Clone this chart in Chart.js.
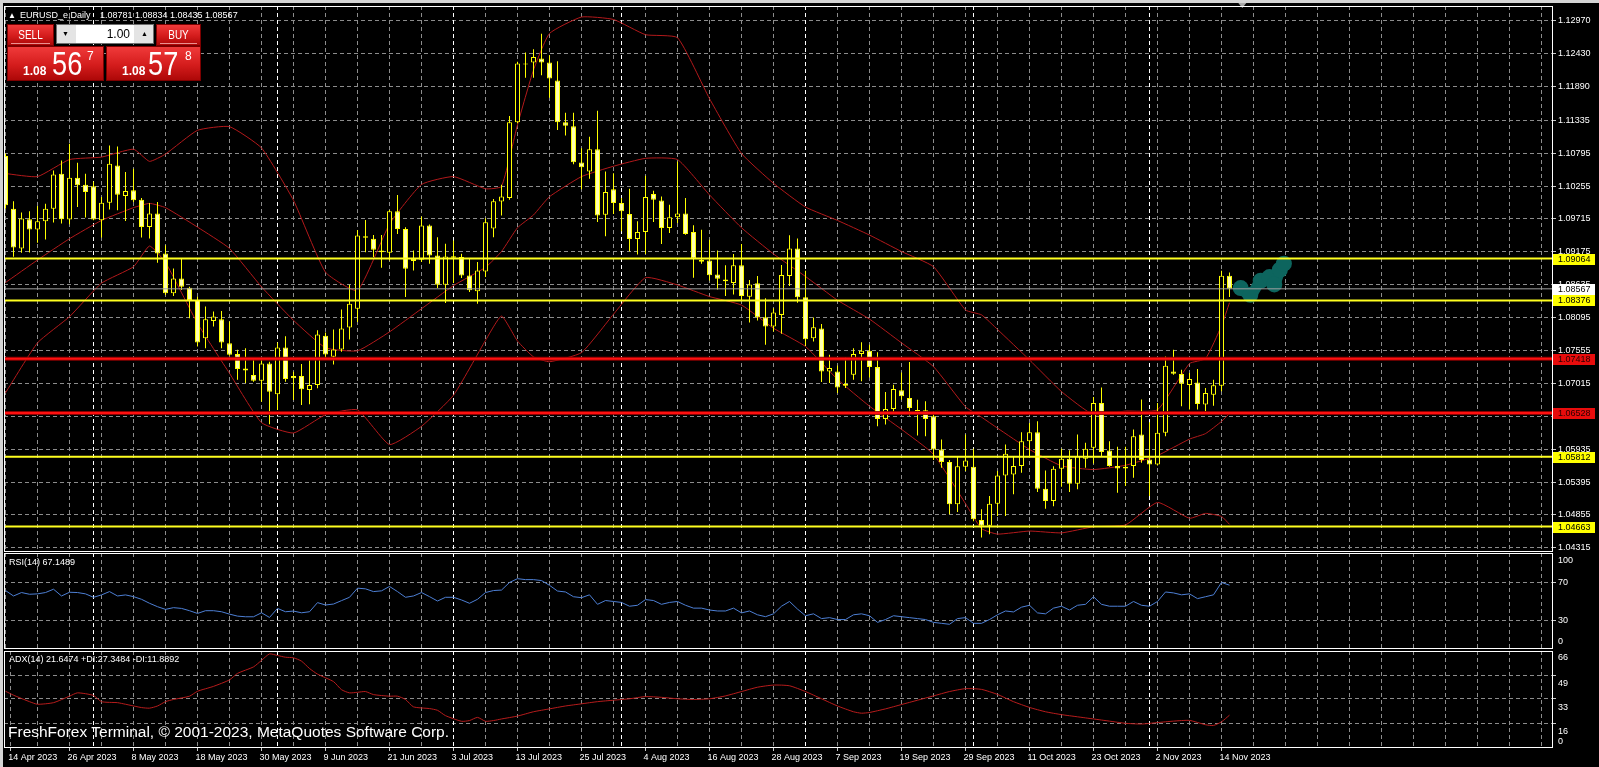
<!DOCTYPE html>
<html>
<head>
<meta charset="utf-8">
<title>EURUSD_e Daily</title>
<script src="https://cdn.jsdelivr.net/npm/chart.js@4.4.1/dist/chart.umd.min.js"></script>
<style>
  html, body { margin:0; padding:0; background:#000; }
  body { width:1599px; height:767px; position:relative; overflow:hidden; font-family:"Liberation Sans", Arial, sans-serif; }
  canvas { position:absolute; left:0; display:block; }
  .txt { position:absolute; color:#fff; font-size:9px; line-height:9px; white-space:nowrap; z-index:5; }
  .strip { position:absolute; background:#d4d4d4; z-index:6; }
  .rb { position:absolute; box-sizing:border-box; border:1px solid #7d0000; background:linear-gradient(to bottom,#f03a3a 0%,#d41c1c 55%,#ad0808 100%); z-index:5; }
  .w { position:absolute; color:#fff; white-space:nowrap; z-index:7; line-height:1; }
</style>
</head>
<body>
<canvas id="cMain" width="1599" height="552" style="top:0;width:1599px;height:552px"></canvas>
<canvas id="cRsi" width="1599" height="97" style="top:552px;width:1599px;height:97px"></canvas>
<canvas id="cAdx" width="1599" height="118" style="top:649px;width:1599px;height:118px"></canvas>

<div class="strip" style="left:0;top:0;width:1599px;height:3px"></div>
<div class="strip" style="left:0;top:0;width:3px;height:767px"></div>

<div class="txt" style="left:8px;top:11px;font-size:8px">▲</div>
<div class="txt" style="left:20px;top:10.6px">EURUSD_e,Daily</div>
<div class="txt" style="left:100px;top:10.6px">1.08781 1.08834 1.08435 1.08567</div>

<!-- one-click trading panel -->
<div class="rb" style="left:7px;top:24px;width:47px;height:22px"></div>
<div class="w" style="left:7px;top:29px;width:47px;text-align:center;font-size:12px;transform:scaleX(.83)">SELL</div>
<div style="position:absolute;left:11px;top:43px;width:39px;height:1px;background:rgba(255,190,190,.75);z-index:7"></div>
<div style="position:absolute;left:56px;top:24px;width:98px;height:20px;box-sizing:border-box;border:1px solid #6e6e6e;background:#e4e4e4;z-index:5"></div>
<div style="position:absolute;left:76px;top:25px;width:58px;height:18px;background:#fff;z-index:6"></div>
<div class="w" style="left:76px;top:27.5px;width:54px;text-align:right;color:#000;font-size:12px">1.00</div>
<div class="w" style="left:62px;top:30px;color:#000;font-size:7px">▼</div>
<div class="w" style="left:141px;top:30px;color:#000;font-size:7px">▲</div>
<div class="rb" style="left:156px;top:24px;width:45px;height:22px"></div>
<div class="w" style="left:156px;top:29px;width:45px;text-align:center;font-size:12px;transform:scaleX(.83)">BUY</div>
<div style="position:absolute;left:160px;top:43px;width:37px;height:1px;background:rgba(255,190,190,.75);z-index:7"></div>
<div class="rb" style="left:7px;top:46px;width:97px;height:35px"></div>
<div class="rb" style="left:106px;top:46px;width:95px;height:35px"></div>
<div class="w" style="left:23px;top:65px;font-size:12px;font-weight:bold">1.08</div>
<div class="w" style="left:52px;top:46px;font-size:34px;transform:scaleX(.8);transform-origin:0 0">56</div>
<div class="w" style="left:87px;top:50px;font-size:12px">7</div>
<div class="w" style="left:122px;top:65px;font-size:12px;font-weight:bold">1.08</div>
<div class="w" style="left:148px;top:46px;font-size:34px;transform:scaleX(.8);transform-origin:0 0">57</div>
<div class="w" style="left:185px;top:50px;font-size:12px">8</div>

<div class="txt" style="left:9px;top:558.3px">RSI(14) 67.1489</div>
<div class="txt" style="left:9px;top:655px">ADX(14) 21.6474 +DI:27.3484 -DI:11.8892</div>
<div class="txt" style="left:8px;top:723.5px;font-size:15.5px;line-height:15.5px">FreshForex Terminal, © 2001-2023, MetaQuotes Software Corp.</div>

<script>
// ---------------- data ----------------
const xTickLabels = ['14 Apr 2023','26 Apr 2023','8 May 2023','18 May 2023','30 May 2023','9 Jun 2023',
  '21 Jun 2023','3 Jul 2023','13 Jul 2023','25 Jul 2023','4 Aug 2023','16 Aug 2023','28 Aug 2023',
  '7 Sep 2023','19 Sep 2023','29 Sep 2023','11 Oct 2023','23 Oct 2023','2 Nov 2023','14 Nov 2023'];

const opens = [1.10750,1.09884,1.09229,1.09709,1.09540,1.09677,1.09884,1.10457,1.09704,1.10391,
1.10277,1.10250,1.09693,1.09982,1.10593,1.10091,1.10184,1.10030,1.09584,1.09802,
1.09148,1.08493,1.08738,1.08585,1.08384,1.07757,1.08040,1.08068,1.07675,1.07495,
1.07261,1.07151,1.07058,1.07342,1.06835,1.07604,1.07135,1.07135,1.06906,1.06988,
1.07795,1.07451,1.07571,1.07931,1.08242,1.09431,1.09388,1.09197,1.09158,1.09840,
1.09551,1.09060,1.09044,1.09606,1.09115,1.08635,1.09077,1.09088,1.08788,1.08526,
1.08853,1.09557,1.10003,1.10057,1.11301,1.12250,1.12283,1.12348,1.12283,1.11988,
1.11301,1.11235,1.10641,1.10493,1.10859,1.09784,1.10204,1.09975,1.09795,1.09386,
1.09501,1.10123,1.10019,1.09566,1.09741,1.09806,1.09501,1.09010,1.09032,1.08802,
1.08721,1.08661,1.08955,1.08439,1.08657,1.08100,1.07948,1.08139,1.08777,1.09230,
1.08428,1.07757,1.07915,1.07211,1.07211,1.07004,1.07157,1.07495,1.07549,1.07282,
1.06431,1.06595,1.06900,1.06775,1.06578,1.06573,1.06475,1.05929,1.05722,1.05029,
1.05646,1.05646,1.04773,1.04675,1.05040,1.05504,1.05520,1.05657,1.06066,1.06213,
1.05286,1.05084,1.05613,1.05777,1.05368,1.05777,1.05957,1.06693,1.05913,1.05657,
1.05646,1.05657,1.06175,1.05766,1.05684,1.06202,1.07211,1.07168,1.06988,1.07031,
1.06666,1.06830,1.06977,1.08781];

const highs = [1.10790,1.10004,1.09819,1.09840,1.09928,1.09966,1.10511,1.10675,1.10948,1.10637,
1.10457,1.10331,1.10075,1.10920,1.10904,1.10484,1.10539,1.10059,1.09977,1.09993,
1.09284,1.08902,1.09066,1.08602,1.08438,1.08275,1.08193,1.08204,1.08030,1.07566,
1.07593,1.07424,1.07424,1.07369,1.07686,1.07789,1.07206,1.07331,1.07396,1.07888,
1.07849,1.07898,1.08226,1.08635,1.09535,1.09698,1.09453,1.09453,1.09862,1.10108,
1.09578,1.09197,1.09753,1.09622,1.09415,1.09306,1.09360,1.09142,1.09060,1.09006,
1.09726,1.10042,1.10275,1.11404,1.12294,1.12446,1.12501,1.12757,1.12403,1.12305,
1.11459,1.11459,1.10875,1.11066,1.11492,1.10493,1.10466,1.10057,1.10210,1.09675,
1.10423,1.10177,1.10084,1.09948,1.10657,1.10057,1.09610,1.09539,1.09375,1.09195,
1.08955,1.09141,1.09304,1.08711,1.08777,1.08411,1.08248,1.08957,1.09448,1.09393,
1.08864,1.08095,1.07991,1.07484,1.07309,1.07440,1.07593,1.07691,1.07648,1.07527,
1.06873,1.06993,1.07195,1.07364,1.06747,1.06720,1.06557,1.06093,1.05755,1.05804,
1.06175,1.05940,1.04947,1.05166,1.05575,1.06011,1.05820,1.06213,1.06366,1.06393,
1.05586,1.05656,1.05940,1.05918,1.06175,1.06038,1.06791,1.06949,1.06066,1.05973,
1.05973,1.06257,1.06748,1.06377,1.06693,1.07457,1.07566,1.07238,1.07184,1.07249,
1.06938,1.07075,1.08864,1.08834];

const lows = [1.09880,1.09093,1.09159,1.09164,1.09322,1.09377,1.09655,1.09639,1.09628,1.09911,
1.09737,1.09693,1.09409,1.09868,1.09857,1.09682,1.09993,1.09409,1.09393,1.08995,
1.08466,1.08449,1.08548,1.08084,1.07620,1.07593,1.07947,1.07593,1.07467,1.07075,
1.07020,1.07042,1.06715,1.06344,1.06578,1.07042,1.06742,1.06660,1.06671,1.06933,
1.07424,1.07326,1.07533,1.07735,1.08024,1.09169,1.09088,1.08913,1.09033,1.09469,
1.08433,1.08869,1.09006,1.08978,1.08580,1.08335,1.08662,1.08744,1.08515,1.08324,
1.08760,1.09415,1.09773,1.10030,1.11284,1.12032,1.12032,1.12075,1.11705,1.11175,
1.11083,1.10614,1.10204,1.10373,1.09664,1.09430,1.09795,1.09512,1.09184,1.09130,
1.09141,1.09664,1.09304,1.09484,1.09648,1.09457,1.08748,1.08977,1.08704,1.08557,
1.08448,1.08475,1.08366,1.08013,1.08046,1.07648,1.07866,1.07828,1.08613,1.08340,
1.07631,1.07702,1.07037,1.07020,1.06857,1.06938,1.07075,1.07048,1.07113,1.06311,
1.06338,1.06529,1.06747,1.06486,1.06158,1.06147,1.05755,1.05629,1.04866,1.04904,
1.05575,1.04750,1.04484,1.04538,1.04838,1.04838,1.05193,1.05547,1.05820,1.05231,
1.04958,1.04998,1.05318,1.05231,1.05275,1.05629,1.05700,1.05820,1.05646,1.05220,
1.05329,1.05466,1.05711,1.05166,1.05667,1.06147,1.07157,1.06638,1.06584,1.06584,
1.06557,1.06649,1.06884,1.08435];

const closes = [1.09938,1.09246,1.09720,1.09540,1.09677,1.09884,1.10446,1.09709,1.10391,1.10266,
1.10157,1.09704,1.09982,1.10620,1.10113,1.10173,1.10020,1.09584,1.09802,1.09148,
1.08493,1.08738,1.08602,1.08384,1.07686,1.08068,1.08111,1.07686,1.07484,1.07250,
1.07228,1.07058,1.07342,1.06878,1.07604,1.07086,1.07097,1.06917,1.06988,1.07817,
1.07489,1.07571,1.07915,1.08324,1.09442,1.09404,1.09208,1.09169,1.09840,1.09551,
1.08897,1.09022,1.09606,1.09115,1.08635,1.09098,1.09104,1.08788,1.08542,1.08869,
1.09660,1.10004,1.10084,1.11301,1.12266,1.12255,1.12375,1.12283,1.12021,1.11301,
1.11246,1.10646,1.10564,1.10859,1.09773,1.10155,1.09975,1.09839,1.09386,1.09501,
1.10073,1.10030,1.09566,1.09741,1.09806,1.09468,1.09064,1.09043,1.08792,1.08731,
1.08693,1.08955,1.08448,1.08640,1.08100,1.07948,1.08177,1.08793,1.09230,1.08428,
1.07740,1.07937,1.07211,1.07266,1.06949,1.06977,1.07495,1.07549,1.07282,1.06431,
1.06595,1.06922,1.06802,1.06611,1.06557,1.06431,1.05929,1.05722,1.05029,1.05656,
1.05749,1.04784,1.04675,1.05040,1.05504,1.05858,1.05657,1.06066,1.06213,1.05286,
1.05084,1.05613,1.05777,1.05368,1.05820,1.05940,1.06693,1.05886,1.05657,1.05618,
1.05618,1.06148,1.05755,1.05684,1.06202,1.07304,1.07173,1.07009,1.07086,1.06677,
1.06857,1.06982,1.08782,1.08567];

// Bollinger Bands (read at these bar indices)
const bbIdx = [0,4,8,12,16,18,20,24,28,32,36,40,44,48,52,56,60,62,64,66,68,72,76,80,84,88,92,96,100,104,
  108,112,116,120,122,124,128,132,136,140,144,148,150,152,153];
const bbUpper = [1.1046,1.1041,1.1069,1.1073,1.1086,1.1066,1.1078,1.1117,1.1123,1.1088,1.1002,1.0884,1.0854,1.0963,
  1.1028,1.1041,1.1021,1.1025,1.1126,1.1216,1.1276,1.1303,1.1299,1.1274,1.1269,1.1169,1.1079,1.1030,1.0991,1.0969,
  1.0945,1.0918,1.0893,1.0822,1.0814,1.0790,1.0740,1.0688,1.0650,1.0656,1.0658,1.0734,1.0742,1.0796,1.0834];
const bbMiddle = [1.0867,1.0904,1.0939,1.0969,1.0990,1.0997,1.0990,1.0958,1.0923,1.0860,1.0805,1.0760,1.0755,1.0786,
  1.0824,1.0862,1.0892,1.0918,1.0957,1.0978,1.1008,1.1041,1.1058,1.1071,1.1069,1.1011,1.0957,1.0914,1.0877,1.0838,
  1.0807,1.0768,1.0729,1.0663,1.0646,1.0628,1.0593,1.0566,1.0560,1.0567,1.0583,1.0610,1.0619,1.0639,1.0652];
const bbLower = [1.0686,1.0768,1.0811,1.0866,1.0893,1.0927,1.0900,1.0800,1.0718,1.0637,1.0620,1.0650,1.0658,1.0601,
  1.0631,1.0682,1.0772,1.0812,1.0771,1.0745,1.0737,1.0752,1.0815,1.0875,1.0863,1.0844,1.0830,1.0792,1.0762,1.0708,
  1.0664,1.0626,1.0585,1.0504,1.0463,1.0454,1.0459,1.0456,1.0466,1.0469,1.0506,1.0480,1.0488,1.0483,1.0470];

// RSI(14), one value per bar
const rsiValues = [61.5,55.8,59.4,57.6,58.0,59.4,62.9,55.8,59.7,59.4,
58.0,54.4,56.9,60.4,55.8,56.9,55.1,52.3,48.1,44.5,
41.7,43.5,42.7,40.3,37.4,40.3,40.3,39.2,36.7,34.6,
33.9,33.9,38.1,33.2,42.7,39.2,39.9,38.1,39.2,48.8,
46.3,47.3,50.9,54.4,64.0,63.3,60.4,61.2,65.8,60.4,
54.4,55.8,59.4,55.1,50.5,54.4,54.4,51.6,48.1,52.3,
59.4,61.5,62.0,70,74,73,73,72,67,61,
60,55,54,57,47,51,50,49,45,46,
52,51,47,49,50,46,43,43,41,40,
40,43,38,40,36,34,37,45,50,42,
35,37,32,33,31,31,36,37,35,28,
31,35,34,33,32,31,28,27,26,32,
33,27,27,31,36,40,39,44,46,38,
37,43,45,41,46,47,55,47,45,45,
45,50,46,45,50,60,59,57,58,53,
55,57,70,67.15];

// ADX(14) main line (read at these bar indices)
const adxIdx = [0,1,3,4,6,8,9,11,12,14,15,17,18,19,20,21,23,24,26,28,29,31,32,33,34,35,36,37,38,39,
  41,42,43,44,45,46,48,49,50,51,53,54,55,57,58,59,60,61,62,64,66,68,70,72,74,76,78,80,82,84,
  86,88,90,92,94,96,98,100,102,104,106,107,108,110,112,114,116,118,120,122,124,126,128,130,132,134,
  136,138,140,142,144,146,148,150,151,152,153];
const adxVals = [38.2,35.5,31.0,29.2,30.3,34.8,37.1,35.3,31.0,30.3,29.2,26.9,26.5,28.0,31.0,32.5,34.8,38.2,41.6,46.1,
  50.6,55.1,59.6,64.1,63.0,61.8,61.4,59.1,54.0,50.1,44.9,39.3,37.1,37.5,38.0,35.9,34.8,34.8,32.5,27.4,
  26.2,25.0,21.3,17.4,17.9,20.1,17.4,17.9,19.0,21,24,26,28,29.5,31,32,33,34.5,34,33,
  32.5,33,35,38,41,42.5,42,38,33,28,24,23,23.5,26,29,32,35,38,40,39.5,
  36,31,27,24,22,20.5,19,17.5,16,15.5,16.5,17.5,18,15,14.5,17,21.65];

const priceTicks = [1.12970,1.12430,1.11890,1.11335,1.10795,1.10255,1.09715,1.09175,1.08635,1.08095,
  1.07555,1.07015,1.06475,1.05935,1.05395,1.04855,1.04315];
const yellowLevels = [1.09064,1.08376,1.05812,1.04663];
const redLevels = [1.07418,1.06528];
const bidPrice = 1.08567;
const monthStartIdx = [11,34,56,77,100,121,143];
const rsiTicks = [70,30];
const adxTicks = [49,33,16];
const tealIdx = [154.4,155.6,156.9,158.0,158.6,159.3,159.8];
const tealPrice = [1.08580,1.08470,1.08700,1.08760,1.08640,1.08880,1.08980];

// ---------------- styling / helpers ----------------
const FONT = '"Liberation Sans", Arial, sans-serif';
const GRID = '#8c8c8c';
const CANDLE_EDGE = '#ffff00';
const CANDLE_FILL = '#ffffb4';
const BB_COLOR = '#b3191b';
const TEAL = '#0d655e';
const X_MIN = -0.1875, X_MAX = 193.3125;
const AXIS_W = 47;
Chart.defaults.font.family = FONT;
Chart.defaults.font.size = 9;
Chart.defaults.color = '#ffffff';

function labelFor(v) {
  const k = Math.floor(v);
  return (k % 8 === 0 && k / 8 < xTickLabels.length) ? xTickLabels[k / 8] : '';
}

function xScale(withLabels) {
  return {
    type: 'linear', min: X_MIN, max: X_MAX, bounds: 'data', offset: false,
    afterBuildTicks: s => {
      const t = [];
      for (let v = 0; v <= X_MAX; v += 4) t.push({ value: (v === 0 && withLabels) ? 0.6 : v });
      s.ticks = t;
    },
    afterFit: s => { s.height = withLabels ? 19 : 0; s.paddingLeft = 0; s.paddingRight = 0; },
    grid: { color: GRID, lineWidth: 1, offset: false, drawTicks: withLabels, tickLength: 3, tickWidth: 1,
      tickBorderDash: [], tickColor: c => (c.tick && labelFor(c.tick.value)) ? '#c8c8c8' : 'rgba(0,0,0,0)' },
    border: { display: false, dash: [4, 3] },
    ticks: { display: withLabels, autoSkip: false, maxRotation: 0, minRotation: 0, align: 'start',
      labelOffset: -2, padding: 1, color: '#ffffff', font: { size: 9, family: FONT },
      callback: v => labelFor(v) }
  };
}

function yScale(min, max, tickVals, showLabels) {
  return {
    type: 'linear', position: 'right', min, max, bounds: 'data', grace: 0,
    afterBuildTicks: s => { s.ticks = tickVals.map(v => ({ value: v })); },
    afterFit: s => { s.width = AXIS_W; s.paddingTop = 0; s.paddingBottom = 0; },
    grid: { color: GRID, lineWidth: 1, drawTicks: true, tickLength: 4, tickWidth: 1, tickColor: '#c8c8c8', tickBorderDash: [] },
    border: { display: false, dash: [4, 3] },
    ticks: { display: showLabels, autoSkip: false, padding: 2, color: '#ffffff', font: { size: 9, family: FONT },
      callback: v => Number(v).toFixed(5) }
  };
}

const framePlugin = {
  id: 'frame',
  afterDraw(chart) {
    const { ctx, chartArea: a } = chart;
    ctx.save();
    ctx.setLineDash([]);
    ctx.strokeStyle = '#ffffff';
    ctx.lineWidth = 1;
    ctx.strokeRect(a.left + 0.5, a.top + 0.5, a.right - a.left, a.bottom - a.top - 1);
    ctx.restore();
  }
};

const monthPlugin = {
  id: 'months',
  beforeDatasetsDraw(chart) {
    const { ctx, chartArea: a, scales: { x } } = chart;
    ctx.save();
    ctx.strokeStyle = '#ffffff';
    ctx.lineWidth = 1;
    ctx.setLineDash([4, 3]);
    monthStartIdx.forEach(i => {
      const px = Math.floor(x.getPixelForValue(i)) + 0.5;
      ctx.beginPath(); ctx.moveTo(px, a.top); ctx.lineTo(px, a.bottom); ctx.stroke();
    });
    ctx.restore();
  }
};

const sideLabelsPlugin = {
  id: 'sideLabels',
  afterDraw(chart, args, opts) {
    if (!opts || !opts.items) return;
    const { ctx, chartArea: a, scales: { y } } = chart;
    ctx.save();
    ctx.fillStyle = '#ffffff';
    ctx.font = '9px ' + FONT;
    ctx.textAlign = 'left';
    ctx.textBaseline = 'middle';
    opts.items.forEach(it => ctx.fillText(it.t, a.right + 6, y.getPixelForValue(it.v) + it.dy));
    ctx.restore();
  }
};

const levelsPlugin = {
  id: 'levels',
  afterDatasetsDraw(chart) {
    const { ctx, chartArea: a, scales: { y } } = chart;
    ctx.save();
    ctx.beginPath(); ctx.rect(a.left, a.top, a.right - a.left, a.bottom - a.top); ctx.clip();
    ctx.setLineDash([]);
    const hline = (v, color, w) => {
      const py = y.getPixelForValue(v);
      ctx.strokeStyle = color; ctx.lineWidth = w;
      ctx.beginPath(); ctx.moveTo(a.left, py); ctx.lineTo(a.right, py); ctx.stroke();
    };
    hline(bidPrice, '#a0a0a0', 1);
    yellowLevels.forEach(v => hline(v, '#ffff20', 2));
    redLevels.forEach(v => { hline(v, 'rgba(150,0,0,0.9)', 4); hline(v, '#ff1010', 2); });
    ctx.restore();
  },
  afterDraw(chart) {
    const { ctx, chartArea: a, scales: { y } } = chart;
    ctx.save();
    ctx.font = '9px ' + FONT;
    ctx.textAlign = 'left';
    ctx.textBaseline = 'middle';
    const box = (v, bg, fg) => {
      const py = Math.round(y.getPixelForValue(v));
      ctx.fillStyle = bg;
      ctx.fillRect(a.right + 1, py - 5, 42, 11);
      ctx.fillStyle = fg;
      ctx.fillText(v.toFixed(5), a.right + 6, py + 0.5);
    };
    yellowLevels.forEach(v => box(v, '#ffff00', '#000000'));
    redLevels.forEach(v => box(v, '#e80c0c', '#2a0000'));
    box(bidPrice, '#ffffff', '#000000');
    // chart shift marker
    ctx.fillStyle = '#a8a8a8';
    const sx = chart.scales.x.getPixelForValue(154.6);
    ctx.beginPath(); ctx.moveTo(sx - 4, 3); ctx.lineTo(sx + 4, 3); ctx.lineTo(sx, 8); ctx.closePath(); ctx.fill();
    ctx.restore();
  }
};

const baseOpts = {
  responsive: false, animation: false, devicePixelRatio: 1, events: [],
  plugins: { legend: { display: false }, tooltip: { enabled: false } }
};

// ---------------- main price chart ----------------
const bodyData = opens.map((o, i) => ({ x: i, y: [o, closes[i]] }));
const wickData = lows.map((l, i) => ({ x: i, y: [l, highs[i]] }));
const bbLine = arr => bbIdx.map((x, i) => ({ x, y: arr[i] }));

new Chart(document.getElementById('cMain'), {
  type: 'line',
  data: {
    datasets: [
      { type: 'bar', data: bodyData, order: 1, grouped: false, barThickness: 5, borderWidth: 1,
        borderColor: CANDLE_EDGE, borderSkipped: false, inflateAmount: 0, minBarLength: 1,
        backgroundColor: closes.map((c, i) => c >= opens[i] ? '#000000' : CANDLE_FILL) },
      { type: 'bar', data: wickData, order: 2, grouped: false, barThickness: 1, borderWidth: 0,
        inflateAmount: 0, backgroundColor: CANDLE_EDGE },
      { type: 'line', data: bbLine(bbUpper), order: 3, borderColor: BB_COLOR, borderWidth: 1, pointRadius: 0, tension: 0.15 },
      { type: 'line', data: bbLine(bbMiddle), order: 3, borderColor: BB_COLOR, borderWidth: 1, pointRadius: 0, tension: 0.15 },
      { type: 'line', data: bbLine(bbLower), order: 3, borderColor: BB_COLOR, borderWidth: 1, pointRadius: 0, tension: 0.15 },
      { type: 'line', data: tealIdx.map((x, i) => ({ x, y: tealPrice[i] })), order: 0, borderColor: TEAL,
        borderWidth: 11, borderCapStyle: 'round', borderJoinStyle: 'round', tension: 0.35,
        pointRadius: 8, pointBackgroundColor: TEAL, pointBorderWidth: 0 }
    ]
  },
  options: Object.assign({}, baseOpts, {
    layout: { autoPadding: false, padding: { left: 4, top: 6, right: 0, bottom: 0 } },
    scales: { x: xScale(false), y: yScale(1.04246, 1.13211, priceTicks, true) }
  }),
  plugins: [monthPlugin, levelsPlugin, framePlugin]
});

// ---------------- RSI ----------------
new Chart(document.getElementById('cRsi'), {
  type: 'line',
  data: { datasets: [
    { data: rsiValues.map((v, i) => ({ x: i, y: v })), borderColor: '#4d7fd4', borderWidth: 1, pointRadius: 0, tension: 0 }
  ] },
  options: Object.assign({}, baseOpts, {
    layout: { autoPadding: false, padding: { left: 4, top: 1, right: 0, bottom: 0 } },
    plugins: { legend: { display: false }, tooltip: { enabled: false },
      sideLabels: { items: [ { v: 100, t: '100', dy: 6.7 }, { v: 70, t: '70', dy: 0 }, { v: 30, t: '30', dy: 0 }, { v: 0, t: '0', dy: -7.3 } ] } },
    scales: { x: xScale(false), y: yScale(0, 101, rsiTicks, false) }
  }),
  plugins: [monthPlugin, framePlugin, sideLabelsPlugin]
});

// ---------------- ADX ----------------
new Chart(document.getElementById('cAdx'), {
  type: 'line',
  data: { datasets: [
    { data: adxIdx.map((x, i) => ({ x, y: adxVals[i] })), borderColor: '#b81c1c', borderWidth: 1, pointRadius: 0, tension: 0.2 }
  ] },
  options: Object.assign({}, baseOpts, {
    layout: { autoPadding: false, padding: { left: 4, top: 2, right: 0, bottom: 0 } },
    plugins: { legend: { display: false }, tooltip: { enabled: false },
      sideLabels: { items: [ { v: 66, t: '66', dy: 6 }, { v: 49, t: '49', dy: 7.6 }, { v: 33, t: '33', dy: 8.4 }, { v: 16, t: '16', dy: 8.2 }, { v: 0, t: '0', dy: -4.7 } ] } },
    scales: { x: xScale(true), y: yScale(-1.13, 66.12, adxTicks, false) }
  }),
  plugins: [monthPlugin, framePlugin, sideLabelsPlugin]
});
</script>
</body>
</html>
